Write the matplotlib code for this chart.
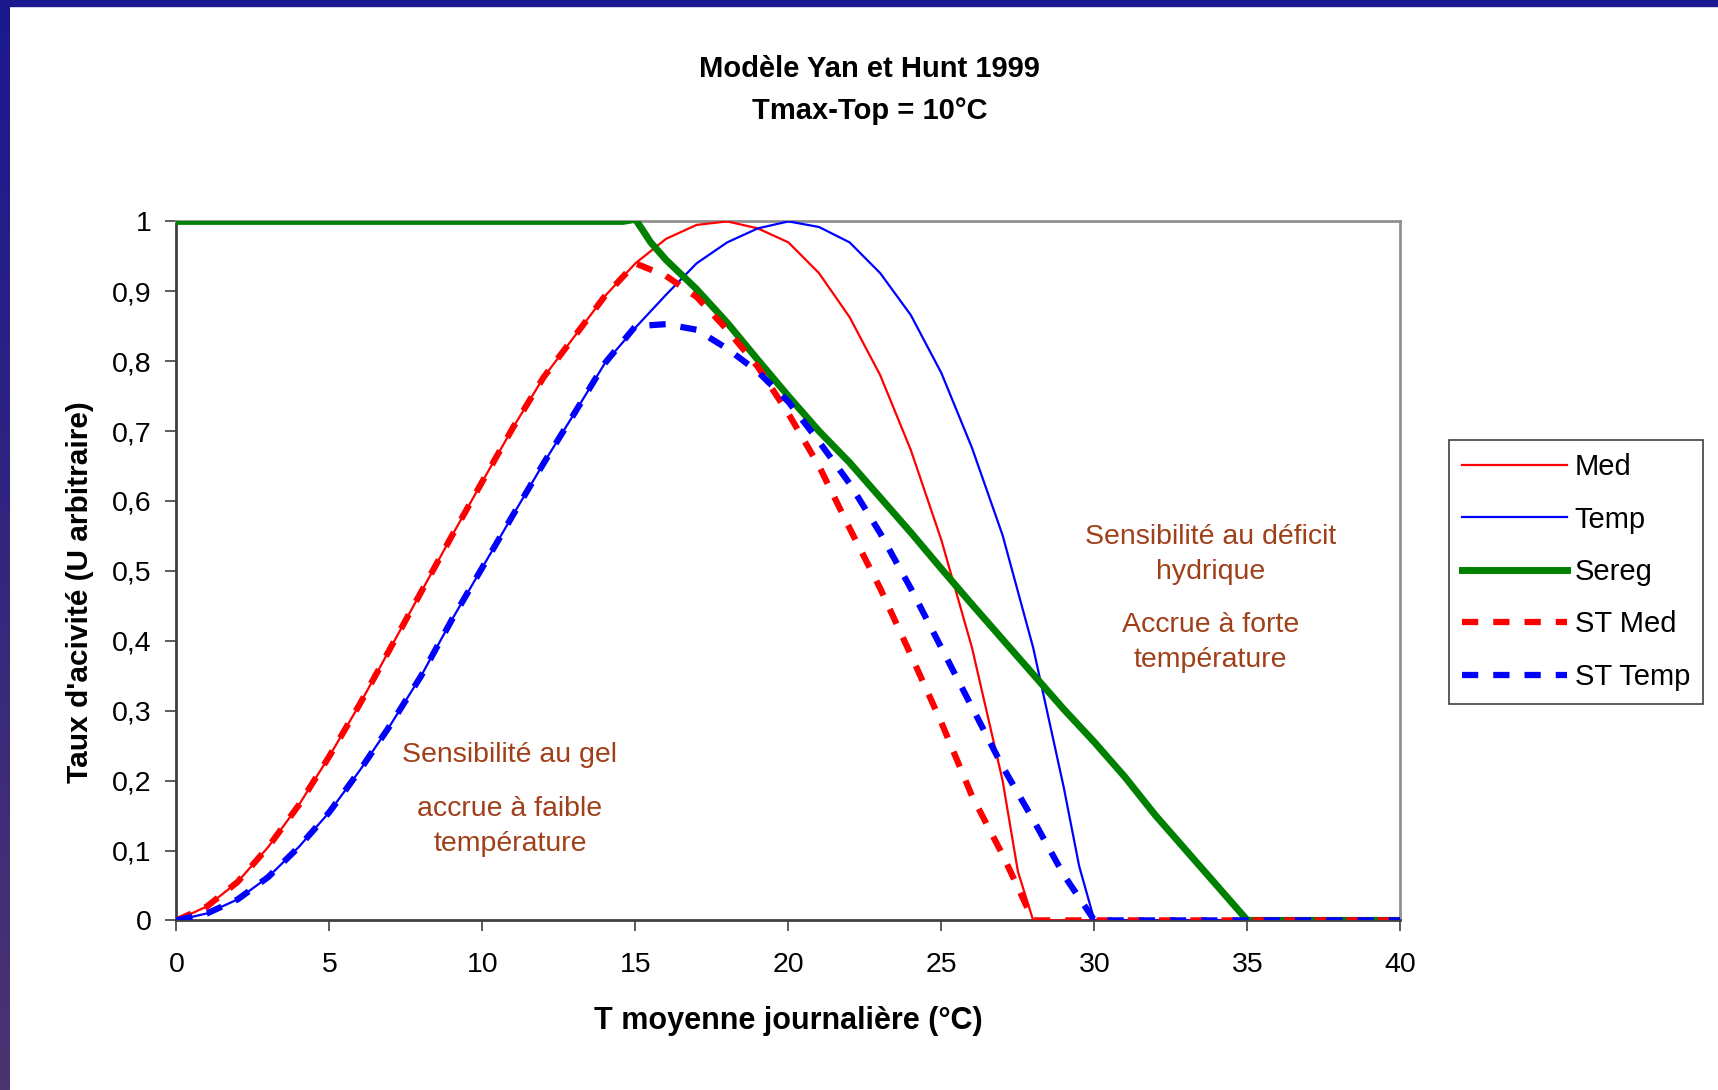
import numpy as np
import matplotlib
matplotlib.use("Agg")
import matplotlib.pyplot as plt
from matplotlib.ticker import FuncFormatter

# data
t_med = [0, 1, 2, 3, 4, 5, 6, 7, 8, 9, 10, 11, 12, 13, 14, 15, 16, 17, 18, 19, 20,
         21, 22, 23, 24, 25, 26, 27, 27.5, 28, 29, 30, 35, 40]
med = [0, 0.02, 0.055, 0.105, 0.165, 0.235, 0.31, 0.39, 0.47, 0.55, 0.628, 0.705, 0.777,
       0.835, 0.893, 0.94, 0.975, 0.995, 1.0, 0.99, 0.97, 0.926, 0.863, 0.78, 0.673, 0.544,
       0.39, 0.2, 0.07, 0, 0, 0, 0, 0]

t_temp = [0, 1, 2, 3, 4, 5, 6, 7, 8, 9, 10, 11, 12, 13, 14, 15, 16, 17, 18, 19, 20,
          21, 22, 23, 24, 25, 26, 27, 28, 29, 29.5, 30, 35, 40]
temp = [0, 0.01, 0.03, 0.062, 0.105, 0.155, 0.215, 0.28, 0.35, 0.43, 0.505, 0.58, 0.654,
        0.725, 0.797, 0.848, 0.895, 0.94, 0.97, 0.99, 1.0, 0.992, 0.97, 0.926, 0.866, 0.783,
        0.676, 0.551, 0.39, 0.19, 0.078, 0, 0, 0]

t_sereg = [0, 5, 10, 14, 14.6, 15, 15.2, 15.5, 16, 17, 18, 19, 20, 21, 22, 23, 24, 25,
           26, 27, 28, 29, 30, 31, 32, 33, 34, 34.5, 35, 40]
sereg = [1, 1, 1, 1, 1, 1.003, 0.99, 0.97, 0.945, 0.903, 0.855, 0.802, 0.75, 0.70, 0.655,
         0.605, 0.555, 0.503, 0.452, 0.402, 0.352, 0.302, 0.255, 0.205, 0.150, 0.100,
         0.05, 0.025, 0, 0]

t_stmed = t_med[:15] + [15, 16, 17, 18, 19, 20, 21, 22, 23, 24, 25, 26, 27, 28, 30, 35, 40]
st_med = med[:15] + [0.94, 0.922, 0.892, 0.845, 0.792, 0.725, 0.65, 0.561, 0.475, 0.38,
                     0.283, 0.178, 0.094, 0, 0, 0, 0]

t_sttemp = t_temp[:15] + [15, 16, 17, 18, 19, 20, 21, 22, 23, 24, 25, 26, 27, 28, 29, 30, 35, 40]
st_temp = temp[:15] + [0.85, 0.853, 0.845, 0.818, 0.785, 0.742, 0.685, 0.625, 0.554, 0.475,
                       0.39, 0.305, 0.22, 0.144, 0.065, 0, 0, 0]

W, H = 1718, 1090
fig = plt.figure(figsize=(W / 100, H / 100), dpi=100)
plt.rcParams['font.family'] = ['Liberation Sans', 'DejaVu Sans']

# slide border (top and left)
fig.patches.append(plt.Rectangle((0, 1 - 6 / H), 1, 6 / H, transform=fig.transFigure,
                                 color='#1b188f', zorder=0))
bar = fig.add_axes([0, 0, 10 / W, 1 - 6 / H])
grad = np.linspace(0, 1, 256).reshape(-1, 1)
c1 = np.array([27, 24, 143]) / 255
c2 = np.array([75, 52, 112]) / 255
img = c1 + grad[:, :, None] * (c2 - c1)
bar.imshow(img, aspect='auto', origin='upper')
bar.axis('off')

ax = fig.add_axes([176.4 / W, 1 - 920.4 / H, 1224 / W, 699 / H])

ax.plot(t_med, med, color='#ff0000', lw=1.6, label='Med', zorder=3)
ax.plot(t_temp, temp, color='#0000ff', lw=1.6, label='Temp', zorder=3)
ax.plot(t_sereg, sereg, color='#008000', lw=5, label='Sereg', zorder=4, solid_joinstyle='round')
ax.plot(t_stmed, st_med, color='#ff0000', lw=4.5, ls=(0, (2.6, 2.4)), label='ST Med', zorder=5)
ax.plot(t_sttemp, st_temp, color='#0000ff', lw=4.5, ls=(0, (2.6, 2.4)), label='ST Temp', zorder=5)

ax.set_xlim(0, 40)
ax.set_ylim(0, 1)
ax.set_xticks(np.arange(0, 41, 5))
ax.set_yticks(np.arange(0, 1.01, 0.1))
ax.yaxis.set_major_formatter(FuncFormatter(
    lambda v, p: '0' if abs(v) < 1e-9 else ('1' if abs(v - 1) < 1e-9 else f'{v:.1f}'.replace('.', ','))))
ax.tick_params(axis='x', direction='out', length=8, width=1.2, color='#404040',
               labelsize=20.5, pad=15)
ax.tick_params(axis='y', direction='out', length=8, width=1.2, color='#404040',
               labelsize=20.5, pad=10)
for s in ['left', 'bottom']:
    ax.spines[s].set_color('#404040')
    ax.spines[s].set_linewidth(2)
for s in ['top', 'right']:
    ax.spines[s].set_color('#909090')
    ax.spines[s].set_linewidth(2)

ax.set_xlabel('T moyenne journalière (°C)', fontsize=22, fontweight='bold')
ax.xaxis.set_label_coords(0.5, -0.122)
ax.set_ylabel("Taux d'acivité (U arbitraire)", fontsize=21.5, fontweight='bold')
ax.yaxis.set_label_coords(-0.067, 0.47)

fig.text(0.506, 1 - 69 / H, 'Modèle Yan et Hunt 1999', ha='center', va='center',
         fontsize=21, fontweight='bold')
fig.text(0.506, 1 - 111 / H, 'Tmax-Top = 10°C', ha='center', va='center',
         fontsize=21, fontweight='bold')

brown = '#a0401a'
afont = ['Liberation Sans Narrow', 'Liberation Sans', 'DejaVu Sans']
ax.text(10.9, 0.237, 'Sensibilité au gel', ha='center', va='center', color=brown,
        fontsize=20.5, family=afont)
ax.text(10.9, 0.135, 'accrue à faible\ntempérature', ha='center', va='center', color=brown,
        fontsize=20.5, family=afont, linespacing=1.45)
ax.text(33.8, 0.523, 'Sensibilité au déficit\nhydrique', ha='center', va='center', color=brown,
        fontsize=20.5, family=afont, linespacing=1.45)
ax.text(33.8, 0.398, 'Accrue à forte\ntempérature', ha='center', va='center', color=brown,
        fontsize=20.5, family=afont, linespacing=1.45)

leg = ax.legend(loc='center', bbox_to_anchor=(1576 / W, 1 - 572 / H),
                bbox_transform=fig.transFigure, fontsize=21, handlelength=3.6,
                labelspacing=0.84, handletextpad=0.27, borderpad=0.45, borderaxespad=0,
                fancybox=False, framealpha=1, edgecolor='#404040')
leg.get_frame().set_linewidth(1.2)

fig.savefig('out.png', dpi=100)
